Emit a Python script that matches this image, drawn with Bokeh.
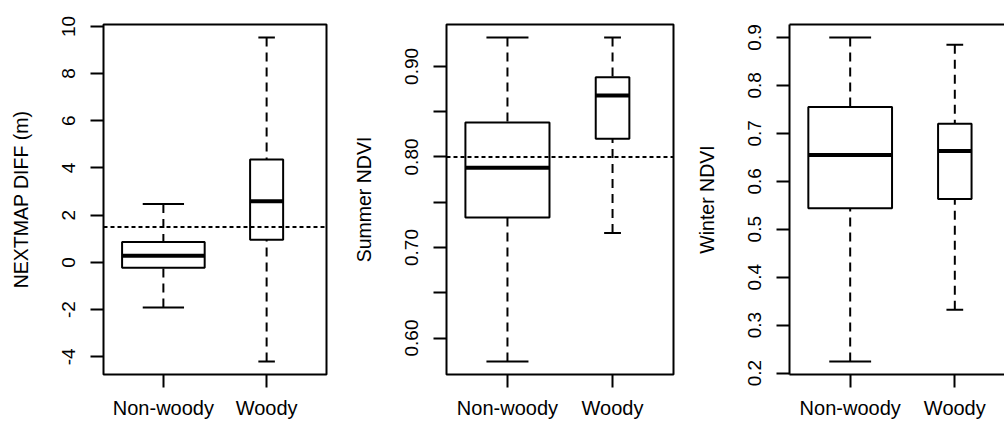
from bokeh.plotting import figure
from bokeh.layouts import row
from bokeh.models import FixedTicker, Span, LinearAxis, Range1d
from bokeh.embed import file_html
from bokeh.resources import INLINE

# ---------------- data ----------------
categories = ["Non-woody", "Woody"]

# Panel 1: NEXTMAP DIFF (m)
nextmap_lower = [-1.91, -4.20]
nextmap_q1 = [-0.23, 0.96]
nextmap_median = [0.28, 2.59]
nextmap_q3 = [0.86, 4.36]
nextmap_upper = [2.47, 9.53]
nextmap_ref = 1.5
nextmap_ticks = [-4, -2, 0, 2, 4, 6, 8, 10]
nextmap_labels = ["-4", "-2", "0", "2", "4", "6", "8", "10"]

# Panel 2: Summer NDVI
summer_lower = [0.574, 0.716]
summer_q1 = [0.733, 0.820]
summer_median = [0.788, 0.868]
summer_q3 = [0.838, 0.888]
summer_upper = [0.932, 0.932]
summer_ref = 0.80
summer_ticks = [0.60, 0.70, 0.80, 0.90]
summer_labels = ["0.60", "0.70", "0.80", "0.90"]
summer_minor_ticks = [0.65, 0.75, 0.85]

# Panel 3: Winter NDVI
winter_lower = [0.224, 0.332]
winter_q1 = [0.544, 0.563]
winter_median = [0.655, 0.663]
winter_q3 = [0.755, 0.720]
winter_upper = [0.900, 0.885]
winter_ticks = [0.2, 0.3, 0.4, 0.5, 0.6, 0.7, 0.8, 0.9]
winter_labels = ["0.2", "0.3", "0.4", "0.5", "0.6", "0.7", "0.8", "0.9"]

# ---------------- style ----------------
BOX_WIDTHS = [0.8, 0.32]      # varwidth-style relative box widths
FONT = "Liberation Sans"
FRAME_TOP = 24
FRAME_H = 350
FIG_H = 421
PX_PER_UNIT = 226 / 2.16


def make_panel(title, lower, q1, med, q3, upper, ticks, labels, minor=None,
               ref=None, left=103, frame_w=223, right=14, open_right=False):
    n = len(categories)
    xs = list(range(1, n + 1))
    lo, hi = min(lower), max(upper)
    pad = 0.04 * (hi - lo)
    x_start = 0.5 - 0.04 * n
    if open_right:
        x_end = x_start + frame_w / PX_PER_UNIT
    else:
        x_end = n + 0.5 + 0.04 * n

    p = figure(width=left + frame_w + right, height=FIG_H,
               x_range=Range1d(x_start, x_end), y_range=Range1d(lo - pad, hi + pad),
               output_backend="svg", toolbar_location=None,
               min_border_left=left, min_border_right=right,
               min_border_top=FRAME_TOP, min_border_bottom=FIG_H - FRAME_TOP - FRAME_H,
               background_fill_color="white", border_fill_color="white")
    p.grid.visible = False

    if open_right:
        p.outline_line_color = None
    else:
        p.outline_line_color = "black"
        p.outline_line_width = 2
        p.outline_line_alpha = 1

    half = [w / 2 for w in BOX_WIDTHS]
    # boxes
    p.quad(left=[x - h for x, h in zip(xs, half)], right=[x + h for x, h in zip(xs, half)],
           bottom=q1, top=q3, fill_color=None, line_color="black", line_width=2)
    # medians
    p.segment(x0=[x - h for x, h in zip(xs, half)], x1=[x + h for x, h in zip(xs, half)],
              y0=med, y1=med, line_color="black", line_width=4)
    # whiskers (drawn from the whisker end toward the box)
    p.segment(x0=xs, x1=xs, y0=upper, y1=q3, line_color="black", line_width=2,
              line_dash="9 6")
    p.segment(x0=xs, x1=xs, y0=lower, y1=q1, line_color="black", line_width=2,
              line_dash="9 6")
    # staples
    p.segment(x0=[x - h / 2 for x, h in zip(xs, half)], x1=[x + h / 2 for x, h in zip(xs, half)],
              y0=upper, y1=upper, line_color="black", line_width=2)
    p.segment(x0=[x - h / 2 for x, h in zip(xs, half)], x1=[x + h / 2 for x, h in zip(xs, half)],
              y0=lower, y1=lower, line_color="black", line_width=2)

    if ref is not None:
        p.add_layout(Span(location=ref, dimension="width", line_color="black",
                          line_width=2, line_dash="4 3"))

    # y axis
    ya = p.yaxis[0]
    ya.ticker = FixedTicker(ticks=ticks, minor_ticks=minor or [])
    ya.major_label_overrides = {t: l for t, l in zip(ticks, labels)}
    ya.major_label_orientation = "vertical"
    ya.major_tick_in = 0
    ya.major_tick_out = 13
    ya.minor_tick_in = 0
    ya.minor_tick_out = 13 if minor else 0
    ya.major_tick_line_width = 2
    ya.minor_tick_line_width = 2
    ya.major_tick_line_color = "black"
    ya.minor_tick_line_color = "black"
    ya.major_label_standoff = 15
    ya.major_label_text_font = FONT
    ya.major_label_text_font_size = "19px"
    ya.major_label_text_color = "black"
    ya.axis_label = title
    ya.axis_label_text_font = FONT
    ya.axis_label_text_font_size = "19.5px"
    ya.axis_label_text_font_style = "normal"
    ya.axis_label_text_color = "black"
    ya.axis_label_standoff = 28

    # x axis
    xa = p.xaxis[0]
    xa.ticker = FixedTicker(ticks=xs)
    xa.major_label_overrides = {x: c for x, c in zip(xs, categories)}
    xa.major_tick_in = 0
    xa.major_tick_out = 13
    xa.major_tick_line_width = 2
    xa.major_tick_line_color = "black"
    xa.minor_tick_line_color = None
    xa.major_label_standoff = 9
    xa.major_label_text_font = FONT
    xa.major_label_text_font_size = "20px"
    xa.major_label_text_color = "black"

    if open_right:
        ya.axis_line_color = "black"
        ya.axis_line_width = 2
        xa.axis_line_color = "black"
        xa.axis_line_width = 2
        top = LinearAxis(ticker=FixedTicker(ticks=[]), axis_line_color="black",
                         axis_line_width=2, major_tick_line_color=None,
                         minor_tick_line_color=None, major_label_text_font_size="0px")
        p.add_layout(top, "above")
    else:
        ya.axis_line_color = None
        xa.axis_line_color = None
    return p


p1 = make_panel("NEXTMAP DIFF (m)", nextmap_lower, nextmap_q1, nextmap_median,
                nextmap_q3, nextmap_upper, nextmap_ticks, nextmap_labels,
                ref=nextmap_ref, left=103, frame_w=223, right=14)
p2 = make_panel("Summer NDVI", summer_lower, summer_q1, summer_median,
                summer_q3, summer_upper, summer_ticks, summer_labels,
                minor=summer_minor_ticks, ref=summer_ref, left=106, frame_w=227, right=6)
p3 = make_panel("Winter NDVI", winter_lower, winter_q1, winter_median,
                winter_q3, winter_upper, winter_ticks, winter_labels,
                left=110, frame_w=215, right=0, open_right=True)

layout = row(p1, p2, p3, spacing=0)
open("out.html", "w").write(file_html(layout, INLINE))
